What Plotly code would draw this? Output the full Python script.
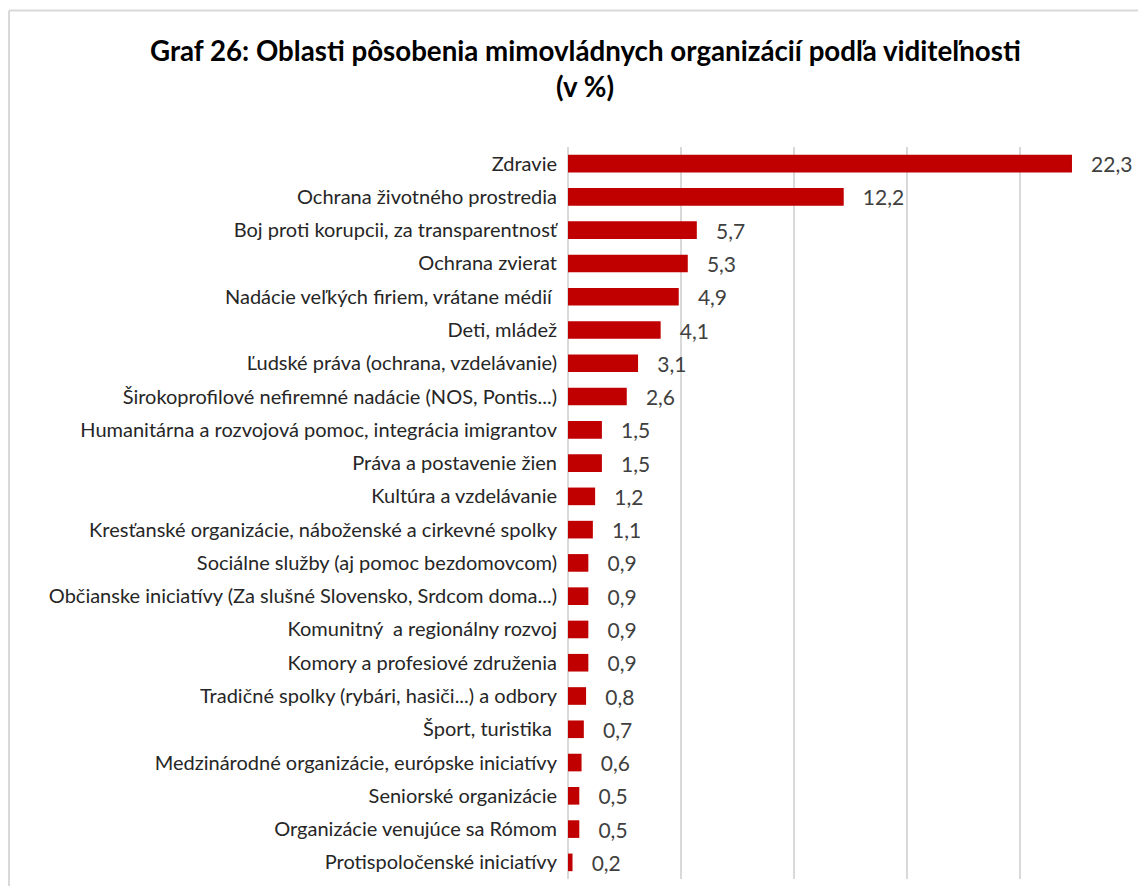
import plotly.graph_objects as go

categories = [
    "Zdravie",
    "Ochrana životného prostredia",
    "Boj proti korupcii, za transparentnosť",
    "Ochrana zvierat",
    "Nadácie veľkých firiem, vrátane médií ",
    "Deti, mládež",
    "Ľudské práva (ochrana, vzdelávanie)",
    "Širokoprofilové nefiremné nadácie (NOS, Pontis...)",
    "Humanitárna a rozvojová pomoc, integrácia imigrantov",
    "Práva a postavenie žien",
    "Kultúra a vzdelávanie",
    "Kresťanské organizácie, náboženské a cirkevné spolky",
    "Sociálne služby (aj pomoc bezdomovcom)",
    "Občianske iniciatívy (Za slušné Slovensko, Srdcom doma...)",
    "Komunitný  a regionálny rozvoj",
    "Komory a profesiové združenia",
    "Tradičné spolky (rybári, hasiči...) a odbory",
    "Šport, turistika ",
    "Medzinárodné organizácie, európske iniciatívy",
    "Seniorské organizácie",
    "Organizácie venujúce sa Rómom",
    "Protispoločenské iniciatívy",
]
values = [22.3, 12.2, 5.7, 5.3, 4.9, 4.1, 3.1, 2.6, 1.5, 1.5, 1.2, 1.1,
          0.9, 0.9, 0.9, 0.9, 0.8, 0.7, 0.6, 0.5, 0.5, 0.2]

title_line1 = "Graf 26: Oblasti pôsobenia mimovládnych organizácií podľa viditeľnosti"
title_line2 = "(v %)"

# page has an 8px body margin; work in page pixels and convert
OFF = 8
W, H = 1146 - OFF, 886 - OFF
PL, PR, PT, PB = 568, 1133, 147, 879   # plot area in page pixels
L = PL - OFF
T = PT - OFF
R = W - (PR - OFF)
B = H - (PB - OFF)
pw, ph = W - L - R, H - T - B

def px_x(x):
    return (x - OFF - L) / pw

def px_y(y):
    return (H - B - (y - OFF)) / ph

fig = go.Figure(go.Bar(
    x=values, y=categories, orientation="h",
    marker=dict(color="#c00000", line=dict(width=0)),
    texttemplate="   %{x:.1f}", textposition="outside",
    constraintext="none",
    textfont=dict(family="Lato", size=21, color="#404040"),
    cliponaxis=False,
))

fig.update_layout(
    width=W, height=H,
    margin=dict(l=L, r=R, t=T, b=B),
    paper_bgcolor="white", plot_bgcolor="white",
    separators=", ",
    bargap=0.47,
    showlegend=False,
    font=dict(family="Lato", size=20, color="#262626"),
)
fig.update_xaxes(range=[0, 25], dtick=5, showticklabels=False,
                 showgrid=True, gridcolor="#d9d9d9", gridwidth=1.5,
                 zeroline=True, zerolinecolor="#d9d9d9", zerolinewidth=1.5)
fig.update_yaxes(autorange="reversed", showgrid=False,
                 tickfont=dict(family="Lato", size=20, color="#262626"),
                 ticklabelstandoff=10)

fig.add_annotation(text="<b>" + title_line1 + "</b>", x=px_x(585), y=px_y(50),
                   xref="paper", yref="paper", showarrow=False,
                   xanchor="center", yanchor="middle",
                   font=dict(family="Lato", size=27.7, color="#000000"))
fig.add_annotation(text="<b>" + title_line2 + "</b>", x=px_x(585), y=px_y(86),
                   xref="paper", yref="paper", showarrow=False,
                   xanchor="center", yanchor="middle",
                   font=dict(family="Lato", size=27.7, color="#000000"))

# outer chart border (extends beyond the visible image on the right/bottom)
fig.add_shape(type="line", xref="paper", yref="paper",
              x0=px_x(9), x1=px_x(1200), y0=px_y(10.5), y1=px_y(10.5),
              line=dict(color="#d9d9d9", width=2))
fig.add_shape(type="line", xref="paper", yref="paper",
              x0=px_x(9), x1=px_x(9), y0=px_y(10.5), y1=px_y(950),
              line=dict(color="#d9d9d9", width=2))

fig.write_html("out.html")
